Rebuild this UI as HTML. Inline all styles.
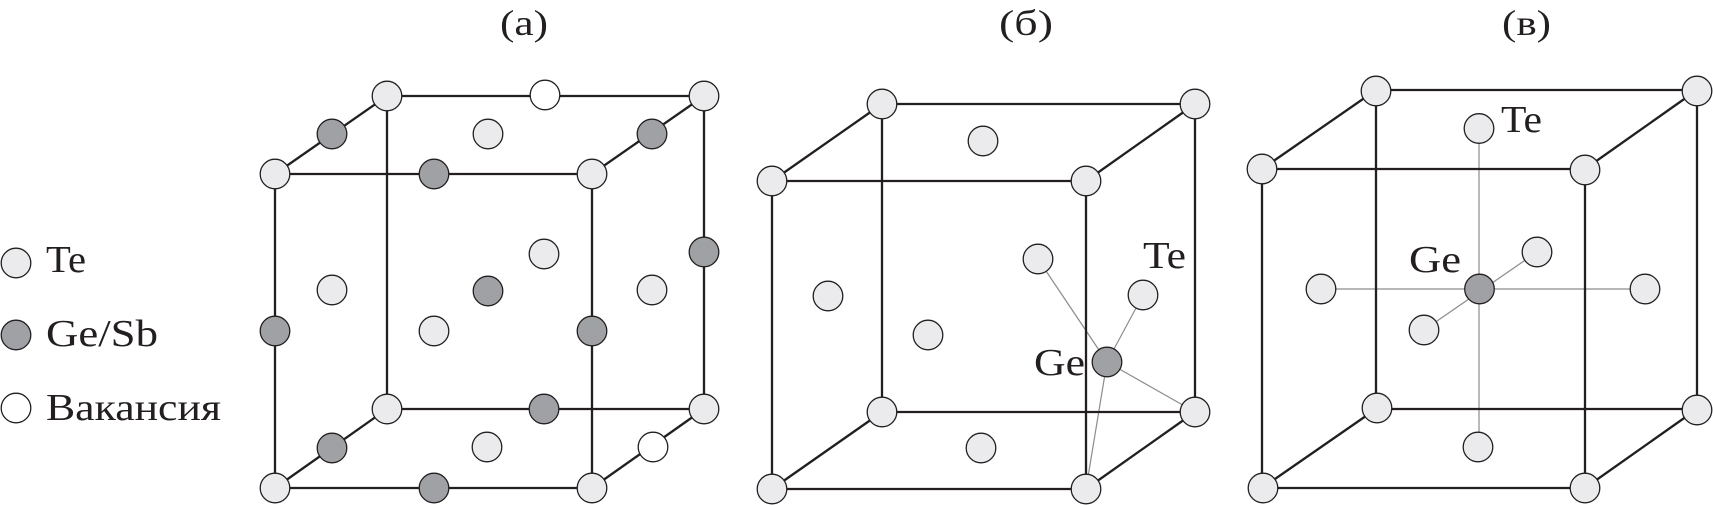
<!DOCTYPE html>
<html><head><meta charset="utf-8"><style>
html,body{margin:0;padding:0;background:#fff;}
svg{display:block;}
text{font-family:"Liberation Serif","Noto Serif CJK SC",serif;fill:#231f20;}
</style></head><body>
<svg width="1713" height="505" viewBox="0 0 1713 505" xmlns="http://www.w3.org/2000/svg">
<rect width="1713" height="505" fill="#fff"/>

<!-- titles -->
<text x="500" y="35" font-size="36" textLength="48" lengthAdjust="spacingAndGlyphs">(a)</text>
<text x="999" y="35" font-size="36" textLength="54" lengthAdjust="spacingAndGlyphs">(б)</text>
<text x="1502" y="35" font-size="36" textLength="49" lengthAdjust="spacingAndGlyphs">(в)</text>

<!-- legend -->
<g stroke="#231f20" stroke-width="1.3">
<circle cx="16" cy="263" r="14.8" fill="#ebebed"/>
<circle cx="16" cy="335" r="14.8" fill="#a0a1a4"/>
<circle cx="16" cy="408" r="14.8" fill="#ffffff"/>
</g>
<text x="46" y="272" font-size="38" textLength="40" lengthAdjust="spacingAndGlyphs">Te</text>
<text x="46" y="346" font-size="38" textLength="112" lengthAdjust="spacingAndGlyphs">Ge/Sb</text>
<text x="46" y="420" font-size="38" textLength="175" lengthAdjust="spacingAndGlyphs">Вакансия</text>

<!-- ===== cube (a) ===== -->
<g stroke="#231f20" stroke-width="2.3" fill="none" stroke-linecap="round">
<line x1="275" y1="174" x2="592" y2="174"/>
<line x1="275" y1="488" x2="592" y2="488"/>
<line x1="275" y1="174" x2="275" y2="488"/>
<line x1="592" y1="174" x2="592" y2="488"/>
<line x1="387" y1="96" x2="704" y2="96"/>
<line x1="387" y1="409" x2="704" y2="409"/>
<line x1="387" y1="96" x2="387" y2="409"/>
<line x1="704" y1="96" x2="704" y2="409"/>
<line x1="275" y1="174" x2="387" y2="96"/>
<line x1="592" y1="174" x2="704" y2="96"/>
<line x1="275" y1="488" x2="387" y2="409"/>
<line x1="592" y1="488" x2="704" y2="409"/>
</g>
<g stroke="#231f20" stroke-width="1.3">
<!-- corners Te -->
<circle cx="275" cy="174" r="14.8" fill="#ebebed"/>
<circle cx="592" cy="174" r="14.8" fill="#ebebed"/>
<circle cx="275" cy="488" r="14.8" fill="#ebebed"/>
<circle cx="592" cy="488" r="14.8" fill="#ebebed"/>
<circle cx="387" cy="96" r="14.8" fill="#ebebed"/>
<circle cx="704" cy="96" r="14.8" fill="#ebebed"/>
<circle cx="387" cy="409" r="14.8" fill="#ebebed"/>
<circle cx="704" cy="409" r="14.8" fill="#ebebed"/>
<!-- edge mids -->
<circle cx="434" cy="174" r="14.8" fill="#a0a1a4"/>
<circle cx="434" cy="488" r="14.8" fill="#a0a1a4"/>
<circle cx="275" cy="331" r="14.8" fill="#a0a1a4"/>
<circle cx="592" cy="331" r="14.8" fill="#a0a1a4"/>
<circle cx="545" cy="95" r="14.8" fill="#ffffff"/>
<circle cx="544" cy="409" r="14.8" fill="#a0a1a4"/>
<circle cx="704" cy="252" r="14.8" fill="#a0a1a4"/>
<circle cx="332" cy="134" r="14.8" fill="#a0a1a4"/>
<circle cx="652" cy="134" r="14.8" fill="#a0a1a4"/>
<circle cx="332" cy="448" r="14.8" fill="#a0a1a4"/>
<circle cx="653" cy="447" r="14.8" fill="#ffffff"/>
<!-- face centers -->
<circle cx="488" cy="134" r="14.8" fill="#ebebed"/>
<circle cx="487" cy="447" r="14.8" fill="#ebebed"/>
<circle cx="332" cy="290" r="14.8" fill="#ebebed"/>
<circle cx="652" cy="290" r="14.8" fill="#ebebed"/>
<circle cx="434" cy="331" r="14.8" fill="#ebebed"/>
<circle cx="544" cy="254" r="14.8" fill="#ebebed"/>
<circle cx="488" cy="291" r="14.8" fill="#a0a1a4"/>
</g>

<!-- ===== cube (б) ===== -->
<g stroke="#8c8c8c" stroke-width="1.2">
<line x1="1038" y1="259" x2="1107" y2="362"/>
<line x1="1143" y1="295" x2="1107" y2="362"/>
<line x1="1195" y1="412" x2="1107" y2="362"/>
<line x1="1086" y1="489" x2="1107" y2="362"/>
</g>
<g stroke="#231f20" stroke-width="2.3" fill="none" stroke-linecap="round">
<line x1="772" y1="181" x2="1086" y2="181"/>
<line x1="772" y1="489" x2="1086" y2="489"/>
<line x1="772" y1="181" x2="772" y2="489"/>
<line x1="1086" y1="181" x2="1086" y2="489"/>
<line x1="882" y1="104" x2="1195" y2="104"/>
<line x1="882" y1="412" x2="1195" y2="412"/>
<line x1="882" y1="104" x2="882" y2="412"/>
<line x1="1195" y1="104" x2="1195" y2="412"/>
<line x1="772" y1="181" x2="882" y2="104"/>
<line x1="1086" y1="181" x2="1195" y2="104"/>
<line x1="772" y1="489" x2="882" y2="412"/>
<line x1="1086" y1="489" x2="1195" y2="412"/>
</g>
<g stroke="#231f20" stroke-width="1.3" fill="#ebebed">
<circle cx="772" cy="181" r="14.8"/>
<circle cx="1086" cy="181" r="14.8"/>
<circle cx="772" cy="489" r="14.8"/>
<circle cx="1086" cy="489" r="14.8"/>
<circle cx="882" cy="104" r="14.8"/>
<circle cx="1195" cy="104" r="14.8"/>
<circle cx="882" cy="412" r="14.8"/>
<circle cx="1195" cy="412" r="14.8"/>
<circle cx="983" cy="141" r="14.8"/>
<circle cx="828" cy="296" r="14.8"/>
<circle cx="928" cy="335" r="14.8"/>
<circle cx="981" cy="448" r="14.8"/>
<circle cx="1038" cy="259" r="14.8"/>
<circle cx="1143" cy="295" r="14.8"/>
<circle cx="1107" cy="362" r="14.8" fill="#a0a1a4"/>
</g>
<text x="1143" y="268" font-size="38" textLength="43" lengthAdjust="spacingAndGlyphs">Te</text>
<text x="1034" y="375" font-size="38" textLength="51" lengthAdjust="spacingAndGlyphs">Ge</text>

<!-- ===== cube (в) ===== -->
<g stroke="#8c8c8c" stroke-width="1.2">
<line x1="1479" y1="129" x2="1479" y2="447"/>
<line x1="1321" y1="289" x2="1645" y2="289"/>
<line x1="1424" y1="330" x2="1537" y2="252"/>
</g>
<g stroke="#231f20" stroke-width="2.3" fill="none" stroke-linecap="round">
<line x1="1262" y1="169" x2="1585" y2="169"/>
<line x1="1262" y1="488" x2="1585" y2="488"/>
<line x1="1262" y1="169" x2="1262" y2="488"/>
<line x1="1585" y1="169" x2="1585" y2="488"/>
<line x1="1376" y1="90" x2="1697" y2="90"/>
<line x1="1376" y1="409" x2="1697" y2="409"/>
<line x1="1376" y1="90" x2="1376" y2="409"/>
<line x1="1697" y1="90" x2="1697" y2="409"/>
<line x1="1262" y1="169" x2="1376" y2="90"/>
<line x1="1585" y1="169" x2="1697" y2="90"/>
<line x1="1262" y1="488" x2="1376" y2="409"/>
<line x1="1585" y1="488" x2="1697" y2="409"/>
</g>
<g stroke="#231f20" stroke-width="1.3" fill="#ebebed">
<circle cx="1262" cy="169" r="14.8"/>
<circle cx="1585" cy="170" r="14.8"/>
<circle cx="1263" cy="488" r="14.8"/>
<circle cx="1585" cy="488" r="14.8"/>
<circle cx="1376" cy="91" r="14.8"/>
<circle cx="1697" cy="91" r="14.8"/>
<circle cx="1377" cy="408" r="14.8"/>
<circle cx="1697" cy="410" r="14.8"/>
<circle cx="1479" cy="128.5" r="14.8"/>
<circle cx="1321" cy="289" r="14.8"/>
<circle cx="1645" cy="289" r="14.8"/>
<circle cx="1537" cy="252" r="14.8"/>
<circle cx="1424" cy="330" r="14.8"/>
<circle cx="1478" cy="447" r="14.8"/>
<circle cx="1479.5" cy="289" r="14.8" fill="#a0a1a4"/>
</g>
<text x="1501" y="132" font-size="38" textLength="41" lengthAdjust="spacingAndGlyphs">Te</text>
<text x="1409" y="272" font-size="38" textLength="52" lengthAdjust="spacingAndGlyphs">Ge</text>
</svg>
</body></html>
